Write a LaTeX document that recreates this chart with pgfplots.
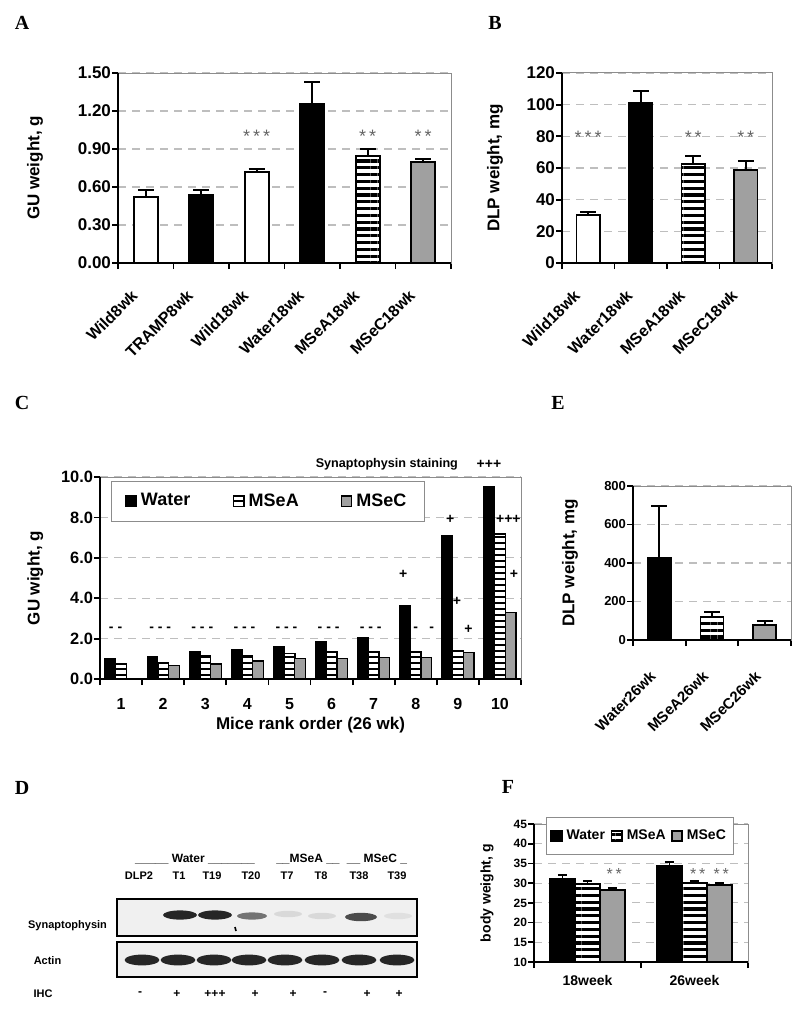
\documentclass[border=0pt]{standalone}
\usepackage{fontspec}
\setmainfont{Liberation Sans}
\newfontfamily\serifbf{Liberation Serif}
\usepackage{pgfplots}
\pgfplotsset{compat=1.18}
\usetikzlibrary{patterns.meta}
\definecolor{msec}{RGB}{160,160,160}
\definecolor{gridc}{RGB}{190,190,190}
\definecolor{framec}{RGB}{140,140,140}
\definecolor{starc}{RGB}{100,100,100}
\newcommand\fs[1]{\fontsize{#1}{#1}\selectfont}

\pgfplotsset{
  panel/.style={
    scale only axis, anchor=south west,
    axis line style={draw=framec, line width=0.5pt},
    tick align=outside, tick pos=left,
    major tick length=0pt, minor tick length=3pt,
    tick style={black, line width=0.9pt},
    ymajorgrids,
    grid style={gridc, line width=0.6pt, dash pattern=on 4pt off 3pt},
    /pgf/number format/assume math mode=true,
    after end axis/.code={
      \draw[framec, line width=0.5pt] (rel axis cs:0,1) -- (rel axis cs:1,1) -- (rel axis cs:1,0);
      \draw[black, line width=1.1pt] (rel axis cs:0,1) -- (rel axis cs:0,0) -- (rel axis cs:1,0);
    },
  },
  errs/.style={
    /pgfplots/error bars/y dir=plus,
    /pgfplots/error bars/y explicit,
    /pgfplots/error bars/error mark=|,
    /pgfplots/error bars/error bar style={line width=0.9pt, black, solid},
    /pgfplots/error bars/error mark options={mark size=#1, line width=0.9pt, black, solid},
  },
  sbar/.style={ybar, bar width=#1, bar shift=0pt},
  wbar/.style={fill=white, draw=black, line width=0.9pt},
  kbar/.style={fill=black, draw=black, line width=0.9pt},
  hbar/.style={draw=black, line width=0.9pt, preaction={fill=white},
    pattern={Lines[angle=0,distance=3.4pt,line width=1.6pt]}, pattern color=black},
  hbarc/.style={draw=black, line width=0.7pt, preaction={fill=white},
    pattern={Lines[angle=0,distance=3pt,line width=1.4pt]}, pattern color=black},
  gbar/.style={fill=msec, draw=black, line width=0.9pt},
  legsq/.style={legend image code/.code={\draw[##1] (0pt,-2.6pt) rectangle (5.2pt,2.6pt);}},
}

\begin{document}
\begin{tikzpicture}
\useasboundingbox (0,0) rectangle (400pt,-505.5pt);

% panel letters
\node[font=\serifbf\bfseries\fs{10}] at (11pt,-11.5pt) {A};
\node[font=\serifbf\bfseries\fs{10}] at (247.5pt,-11.5pt) {B};
\node[font=\serifbf\bfseries\fs{10}] at (11pt,-201.5pt) {C};
\node[font=\serifbf\bfseries\fs{10}] at (279pt,-201.5pt) {E};
\node[font=\serifbf\bfseries\fs{10}] at (11pt,-394pt) {D};
\node[font=\serifbf\bfseries\fs{10}] at (254pt,-393.5pt) {F};

% ---------------- A
\begin{axis}[panel, at={(59pt,-131.5pt)}, width=166.5pt, height=95pt,
  xmin=0.5, xmax=6.5, ymin=0, ymax=1.5,
  xtick={1,2,3,4,5,6}, minor xtick={0.5,1.5,2.5,3.5,4.5,5.5,6.5},
  ytick={0,0.3,0.6,0.9,1.2,1.5}, minor ytick={0,0.3,0.6,0.9,1.2,1.5},
  yticklabel style={font=\bfseries\fs{8.5}, /pgf/number format/.cd, fixed, fixed zerofill, precision=2},
  xticklabels={Wild8wk,TRAMP8wk,Wild18wk,Water18wk,MSeA18wk,MSeC18wk},
  xticklabel style={font=\bfseries\fs{8}, rotate=45, anchor=north east, xshift=-11pt, yshift=0pt},
  ylabel={GU weight, g}, ylabel style={font=\bfseries\fs{8.5}, at={(axis description cs:-0.249,0.5)}, anchor=center},
]
\addplot[sbar=12pt, wbar, errs=4pt] coordinates {(1,0.523) +- (0,0.053)};
\addplot[sbar=12pt, kbar, errs=4pt] coordinates {(2,0.537) +- (0,0.039)};
\addplot[sbar=12pt, wbar, errs=4pt] coordinates {(3,0.720) +- (0,0.020)};
\addplot[sbar=12pt, kbar, errs=4pt] coordinates {(4,1.255) +- (0,0.175)};
\addplot[sbar=12pt, hbar, errs=4pt] coordinates {(5,0.847) +- (0,0.051)};
\addplot[sbar=12pt, gbar, errs=4pt] coordinates {(6,0.795) +- (0,0.025)};
\node[starc, font=\fs{9}] at (axis cs:3,1.00) {*\,*\,*};
\node[starc, font=\fs{9}] at (axis cs:5,1.00) {*\,*};
\node[starc, font=\fs{9}] at (axis cs:6,1.00) {*\,*};
\end{axis}

% ---------------- B
\begin{axis}[panel, at={(281pt,-131.5pt)}, width=105pt, height=95pt,
  xmin=0.5, xmax=4.5, ymin=0, ymax=120,
  xtick={1,2,3,4}, minor xtick={0.5,1.5,2.5,3.5,4.5},
  ytick={0,20,40,60,80,100,120}, minor ytick={0,20,40,60,80,100,120},
  yticklabel style={font=\bfseries\fs{8.5}},
  xticklabels={Wild18wk,Water18wk,MSeA18wk,MSeC18wk},
  xticklabel style={font=\bfseries\fs{8}, rotate=45, anchor=north east, xshift=-11pt, yshift=0pt},
  ylabel={DLP weight, mg}, ylabel style={font=\bfseries\fs{8.5}, at={(axis description cs:-0.319,0.5)}, anchor=center},
]
\addplot[sbar=11.7pt, wbar, errs=4pt] coordinates {(1,30.3) +- (0,1.9)};
\addplot[sbar=11.7pt, kbar, errs=4pt] coordinates {(2,101.3) +- (0,7.3)};
\addplot[sbar=11.7pt, hbar, errs=4pt] coordinates {(3,62.3) +- (0,5.5)};
\addplot[sbar=11.7pt, gbar, errs=4pt] coordinates {(4,58.7) +- (0,5.7)};
\node[starc, font=\fs{9}] at (axis cs:1,79.5) {*\,*\,*};
\node[starc, font=\fs{9}] at (axis cs:3,79.5) {*\,*};
\node[starc, font=\fs{9}] at (axis cs:4,79.5) {*\,*};
\end{axis}

% ---------------- C
\begin{axis}[panel, at={(50pt,-339.5pt)}, width=210.5pt, height=101pt, clip=false,
  xmin=0.5, xmax=10.5, ymin=0, ymax=10,
  xtick={1,2,3,4,5,6,7,8,9,10}, minor xtick={0.5,1.5,...,10.5},
  ytick={0,2,4,6,8,10}, minor ytick={0,2,4,6,8,10},
  ybar=0pt, bar width=5.35pt,
  yticklabel style={font=\bfseries\fs{8.2}, /pgf/number format/.cd, fixed, fixed zerofill, precision=1},
  xticklabel style={font=\bfseries\fs{8}, yshift=-6pt},
  ylabel={GU wight, g}, ylabel style={font=\bfseries\fs{8.5}, at={(axis description cs:-0.154,0.5)}, anchor=center},
  xlabel={Mice rank order (26 wk)}, xlabel style={font=\bfseries\fs{8.5}, at={(axis description cs:0.5,-0.23)}, anchor=center},
  legend style={at={(0.026,0.98)}, anchor=north west, legend columns=3, draw=framec, fill=white,
    font=\bfseries\fs{9}, inner xsep=7pt, inner ysep=4pt},
]
\addplot[kbar, line width=0.6pt, legsq] coordinates {(1,1.00) (2,1.09) (3,1.34) (4,1.47) (5,1.60) (6,1.87) (7,2.06) (8,3.61) (9,7.09) (10,9.52)};
\addplot[hbarc, legsq] coordinates {(1,0.74) (2,0.81) (3,1.14) (4,1.14) (5,1.27) (6,1.34) (7,1.34) (8,1.34) (9,1.40) (10,7.18)};
\addplot[gbar, line width=0.6pt, legsq] coordinates {(2,0.68) (3,0.74) (4,0.89) (5,1.01) (6,1.01) (7,1.07) (8,1.07) (9,1.32) (10,3.28)};
\legend{\makebox[44pt][l]{Water},\makebox[44pt][l]{MSeA},MSeC}
\node[font=\bfseries\fs{7}] at (axis cs:0.87,2.45) {- -};
\node[font=\bfseries\fs{7}] at (axis cs:1.93,2.45) {- - -};
\node[font=\bfseries\fs{7}] at (axis cs:2.93,2.45) {- - -};
\node[font=\bfseries\fs{7}] at (axis cs:3.93,2.45) {- - -};
\node[font=\bfseries\fs{7}] at (axis cs:4.93,2.45) {- - -};
\node[font=\bfseries\fs{7}] at (axis cs:5.93,2.45) {- - -};
\node[font=\bfseries\fs{7}] at (axis cs:6.93,2.45) {- - -};
\node[font=\bfseries\fs{7}] at (axis cs:7.70,5.2) {+};
\node[font=\bfseries\fs{7}] at (axis cs:8.00,2.45) {-};
\node[font=\bfseries\fs{7}] at (axis cs:8.38,2.45) {-};
\node[font=\bfseries\fs{7}] at (axis cs:8.82,7.92) {+};
\node[font=\bfseries\fs{7}] at (axis cs:8.98,3.85) {+};
\node[font=\bfseries\fs{7}] at (axis cs:9.25,2.47) {+};
\node[font=\bfseries\fs{7}] at (axis cs:10.2,7.9) {+++};
\node[font=\bfseries\fs{7}] at (axis cs:10.33,5.2) {+};
\node[font=\bfseries\fs{6.3}, anchor=east] at (axis cs:9.17,10.64) {Synaptophysin staining};
\node[font=\bfseries\fs{7}] at (axis cs:9.74,10.64) {+++};
\end{axis}

% ---------------- E
\begin{axis}[panel, at={(316.5pt,-320pt)}, width=79pt, height=77pt,
  xmin=0.5, xmax=3.5, ymin=0, ymax=800,
  xtick={1,2,3}, minor xtick={0.5,1.5,2.5,3.5},
  ytick={0,200,400,600,800}, minor ytick={0,200,400,600,800},
  yticklabel style={font=\bfseries\fs{6.5}},
  xticklabels={Water26wk,MSeA26wk,MSeC26wk},
  xticklabel style={font=\bfseries\fs{7.5}, rotate=45, anchor=north east, xshift=-10.7pt, yshift=-3.3pt},
  ylabel={DLP weight, mg}, ylabel style={font=\bfseries\fs{8.5}, at={(axis description cs:-0.399,0.5)}, anchor=center},
]
\addplot[sbar=11.5pt, kbar, errs=4pt] coordinates {(1,426) +- (0,272)};
\addplot[sbar=11.5pt, hbar, errs=4pt] coordinates {(2,121) +- (0,26)};
\addplot[sbar=11.5pt, gbar, errs=4pt] coordinates {(3,80) +- (0,19)};
\end{axis}

% ---------------- F
\begin{axis}[panel, at={(267pt,-481pt)}, width=107pt, height=69pt,
  xmin=0.5, xmax=2.5, ymin=10, ymax=45,
  xtick={1,2}, minor xtick={0.5,1.5,2.5},
  ytick={10,15,20,25,30,35,40,45}, minor ytick={10,15,20,25,30,35,40,45},
  ybar=0pt, bar width=12.5pt,
  yticklabel style={font=\bfseries\fs{6}},
  xticklabels={18week,26week},
  xticklabel style={font=\bfseries\fs{7}, yshift=-3pt},
  ylabel={body weight, g}, ylabel style={font=\bfseries\fs{7}, at={(axis description cs:-0.220,0.5)}, anchor=center},
  legend style={at={(0.056,1.05)}, anchor=north west, legend columns=3, draw=framec, fill=white,
    font=\bfseries\fs{7}, inner xsep=2pt, inner ysep=4pt},
]
\addplot[kbar, errs=2.3pt, legsq] coordinates {(1,31.0) +- (0,1.0) (2,34.4) +- (0,1.0)};
\addplot[hbar, errs=2.3pt, legsq] coordinates {(1,29.7) +- (0,0.8) (2,30.1) +- (0,0.5)};
\addplot[gbar, errs=2.3pt, legsq] coordinates {(1,28.3) +- (0,0.4) (2,29.5) +- (0,0.5)};
\legend{\makebox[20pt][l]{Water},\makebox[20pt][l]{MSeA},MSeC}
\node[starc, font=\fs{8}] at (axis cs:1.25,32.4) {*\,*};
\node[starc, font=\fs{8}] at (axis cs:2.03,32.4) {*\,*};
\node[starc, font=\fs{8}] at (axis cs:2.25,32.4) {*\,*};
\end{axis}

% ---------------- D (western blot image)
\begin{scope}[x=0.5pt,y=-0.5pt]
 \node[font=\bfseries\fs{6}] at (195,859) {\_\_\_\_\_ Water \_\_\_\_\_\_\_};
 \node[font=\bfseries\fs{6}] at (308,859) {\_\_MSeA \_\_};
 \node[font=\bfseries\fs{6}] at (377,859) {\_\_ MSeC \_};
 \foreach \xx/\lab in {139/DLP2,179/T1,212/T19,251/T20,287/T7,321/T8,359/T38,397/T39}
   \node[font=\bfseries\fs{5.5}] at (\xx,876) {\lab};
 \draw[line width=1.1pt, fill=black!6] (117,899) rectangle (417,936);
 \draw[line width=1.1pt, fill=black!6] (117,942) rectangle (417,977);
 \fill[black!85] (180,915) ellipse [x radius=8.5pt, y radius=2.3pt];
 \fill[black!85] (215,915) ellipse [x radius=8.5pt, y radius=2.3pt];
 \fill[black!55] (252,916) ellipse [x radius=7.5pt, y radius=1.8pt];
 \fill[black!15] (288,914) ellipse [x radius=7pt, y radius=1.6pt];
 \fill[black!15] (322,916) ellipse [x radius=7pt, y radius=1.6pt];
 \fill[black!70] (361,917) ellipse [x radius=8pt, y radius=2.1pt];
 \fill[black!12] (398,916) ellipse [x radius=7pt, y radius=1.6pt];
 \draw[black, line width=0.8pt] (235,927) -- (236,931);
 \foreach \xx in {142,178,214,249,285,322,359,397}
   \fill[black!85] (\xx,960) ellipse [x radius=8.7pt, y radius=2.7pt];
 \node[font=\bfseries\fs{5.5}] at (67.5,926) {Synaptophysin};
 \node[font=\bfseries\fs{5.5}] at (47.5,961) {Actin};
 \node[font=\bfseries\fs{5.5}] at (43,994) {IHC};
 \foreach \xx/\lab in {140/-,177/+,215/+++,255/+,293/+,325/-,367/+,399/+}
   \node[font=\bfseries\fs{6}] at (\xx,994) {\lab};
\end{scope}
\end{tikzpicture}
\end{document}
